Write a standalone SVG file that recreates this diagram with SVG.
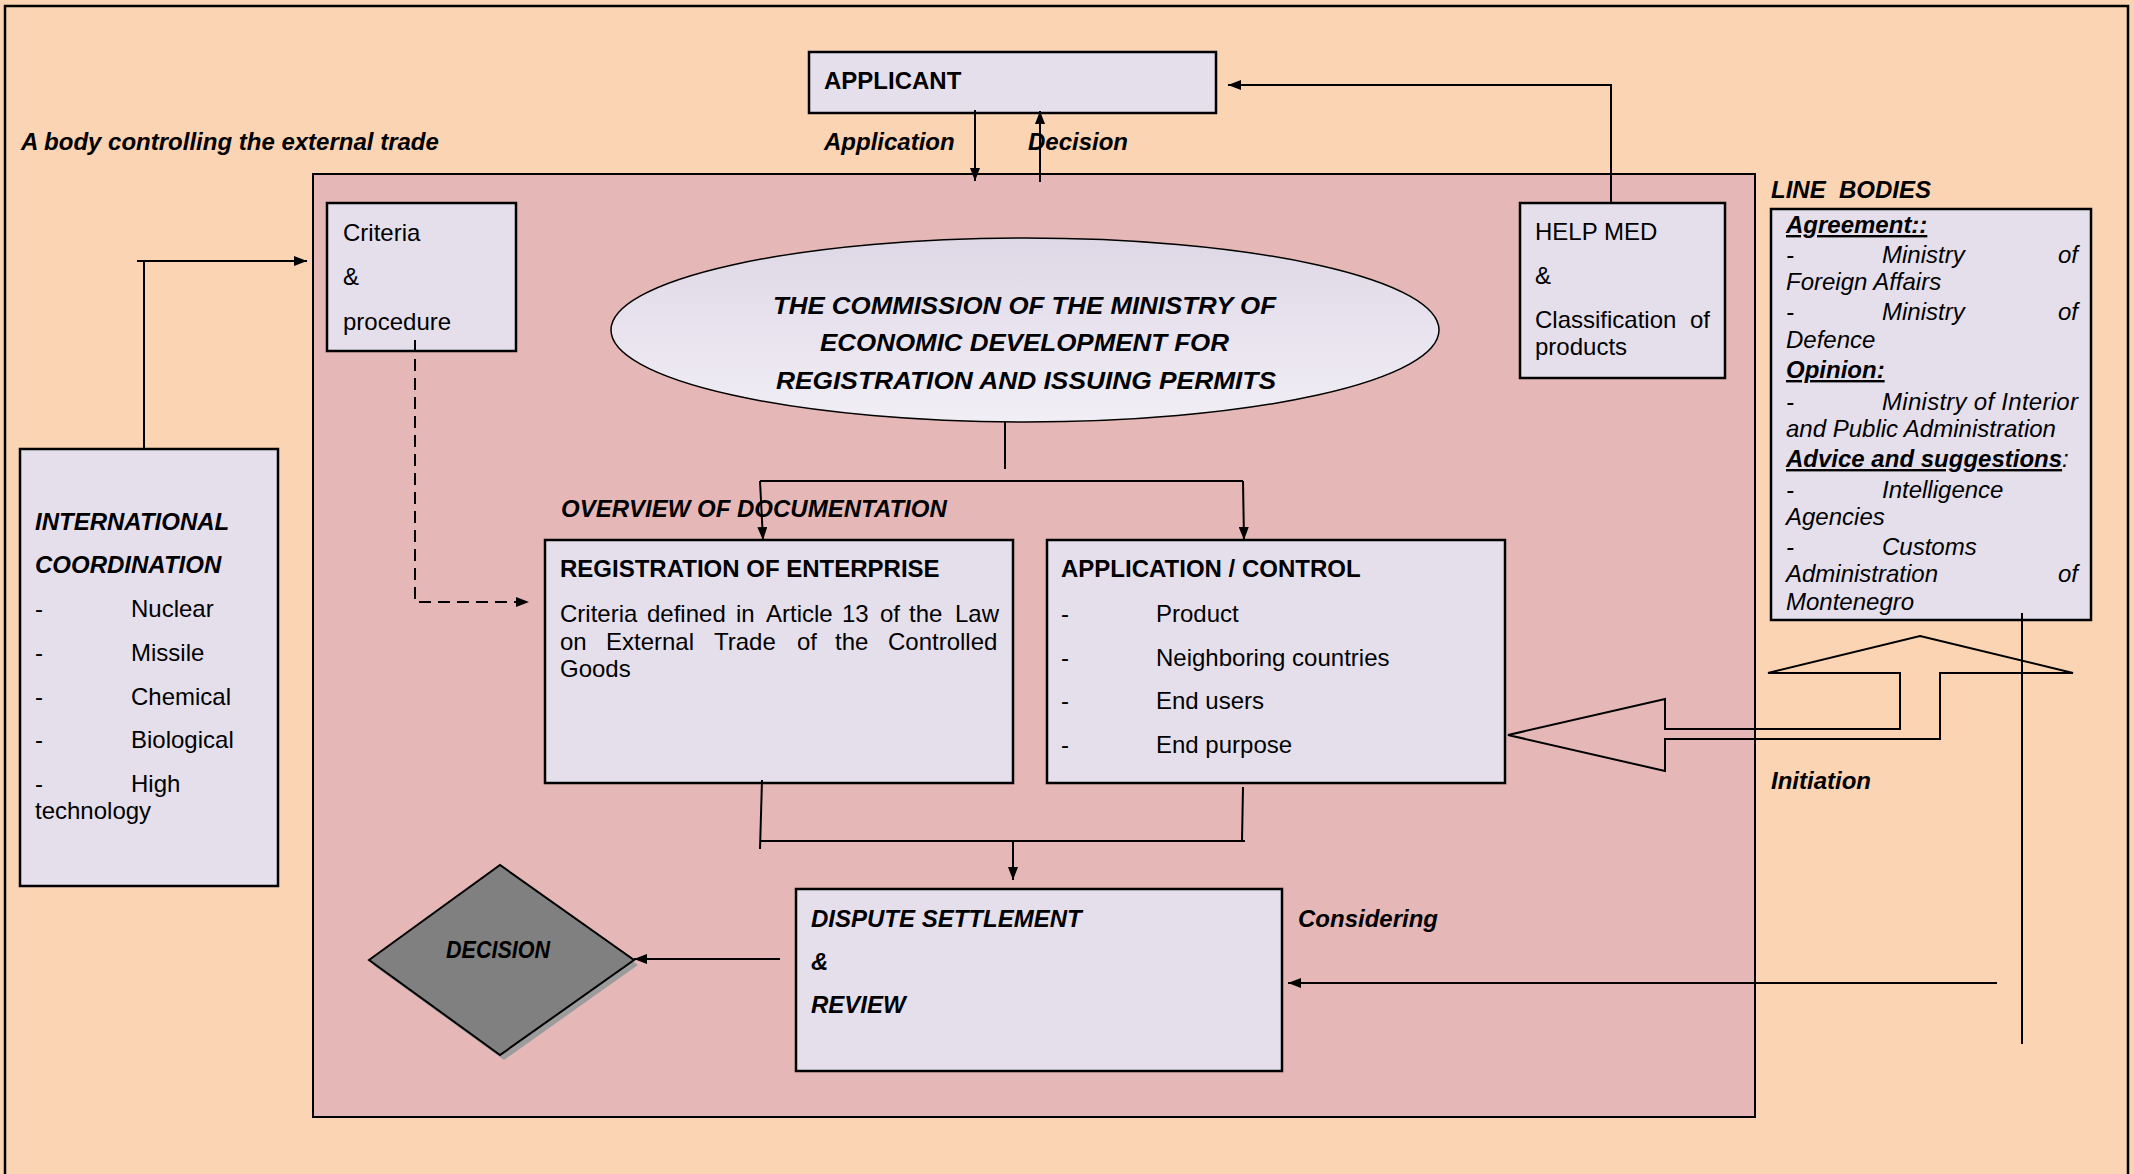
<svg xmlns="http://www.w3.org/2000/svg" width="2134" height="1174" viewBox="0 0 2134 1174">
<defs>
<style>
text{font-family:"Liberation Sans",Arial,sans-serif;font-size:24px;fill:#000}
.b{font-weight:bold}
.bi{font-weight:bold;font-style:italic}
.i{font-style:italic}
.u{text-decoration:underline}
.box{fill:#E5DFEC;stroke:#000;stroke-width:2.5}
.ln{fill:none;stroke:#000;stroke-width:2}
.arr{fill:none;stroke:#000;stroke-width:2;marker-end:url(#ah)}
</style>
<marker id="ah" viewBox="0 0 13 10" refX="13" refY="5" markerWidth="13" markerHeight="10" markerUnits="userSpaceOnUse" orient="auto">
<path d="M0,0 L13,5 L0,10 z" fill="#000"/>
</marker>
<linearGradient id="eg" x1="0" y1="0" x2="0" y2="1">
<stop offset="0" stop-color="#DED8E6"/>
<stop offset="0.5" stop-color="#E8E3EE"/>
<stop offset="1" stop-color="#F1EEF5"/>
</linearGradient>
</defs>

<rect x="0" y="0" width="2134" height="1174" fill="#FBD4B4"/>
<path d="M5,1174 V6 H2128 V1174" fill="none" stroke="#000" stroke-width="2.5"/>
<text x="21" y="150" class="bi">A body controlling the external trade</text>

<g id="main-area">
<rect x="313" y="174" width="1442" height="943" fill="#E5B8B7" stroke="#000" stroke-width="2"/>
</g>

<g id="applicant">
<rect x="809" y="52" width="407" height="61" class="box"/>
<text x="824" y="89" class="b">APPLICANT</text>
</g>
<text x="824" y="150" class="bi">Application</text>
<text x="1028" y="150" class="bi">Decision</text>

<g id="criteria">
<rect x="327" y="203" width="189" height="148" class="box"/>
<text x="343" y="241">Criteria</text>
<text x="343" y="285">&amp;</text>
<text x="343" y="330">procedure</text>
</g>

<g id="helpmed">
<rect x="1520" y="203" width="205" height="175" class="box"/>
<text x="1535" y="240">HELP MED</text>
<text x="1535" y="284">&amp;</text>
<text x="1535" y="328">Classification</text>
<text x="1710" y="328" text-anchor="end">of</text>
<text x="1535" y="355">products</text>
</g>

<g id="commission">
<ellipse cx="1025" cy="330" rx="414" ry="92" fill="url(#eg)" stroke="#000" stroke-width="1.5"/>
<text x="1024.5" y="314" class="bi" font-size="27" text-anchor="middle" textLength="503" lengthAdjust="spacingAndGlyphs">THE COMMISSION OF THE MINISTRY OF</text>
<text x="1024.5" y="351" class="bi" font-size="27" text-anchor="middle" textLength="409" lengthAdjust="spacingAndGlyphs">ECONOMIC DEVELOPMENT FOR</text>
<text x="1026" y="389" class="bi" font-size="27" text-anchor="middle" textLength="500" lengthAdjust="spacingAndGlyphs">REGISTRATION AND ISSUING PERMITS</text>
</g>

<g id="intl">
<rect x="20" y="449" width="258" height="437" class="box"/>
<text x="35" y="530" class="bi">INTERNATIONAL</text>
<text x="35" y="573" class="bi">COORDINATION</text>
<text x="35" y="617">-</text><text x="131" y="617">Nuclear</text>
<text x="35" y="661">-</text><text x="131" y="661">Missile</text>
<text x="35" y="705">-</text><text x="131" y="705">Chemical</text>
<text x="35" y="748">-</text><text x="131" y="748">Biological</text>
<text x="35" y="792">-</text><text x="131" y="792">High</text>
<text x="35" y="819">technology</text>
</g>

<g id="linebodies">
<text x="1771" y="198" class="bi">LINE&#160; BODIES</text>
<rect x="1771" y="209" width="320" height="411" class="box"/>
<text x="1786" y="233" class="bi u">Agreement::</text>
<text x="1786" y="263" class="i">-</text><text x="1882" y="263" class="i">Ministry</text><text x="2078" y="263" class="i" text-anchor="end">of</text>
<text x="1786" y="290" class="i">Foreign Affairs</text>
<text x="1786" y="320" class="i">-</text><text x="1882" y="320" class="i">Ministry</text><text x="2078" y="320" class="i" text-anchor="end">of</text>
<text x="1786" y="348" class="i">Defence</text>
<text x="1786" y="378" class="bi u">Opinion:</text>
<text x="1786" y="410" class="i">-</text><text x="1882" y="410" class="i" textLength="196">Ministry of Interior</text>
<text x="1786" y="437" class="i">and Public Administration</text>
<text x="1786" y="467" class="i"><tspan class="bi u">Advice and suggestions</tspan>:</text>
<text x="1786" y="498" class="i">-</text><text x="1882" y="498" class="i">Intelligence</text>
<text x="1786" y="525" class="i">Agencies</text>
<text x="1786" y="555" class="i">-</text><text x="1882" y="555" class="i">Customs</text>
<text x="1786" y="582" class="i">Administration</text><text x="2078" y="582" class="i" text-anchor="end">of</text>
<text x="1786" y="610" class="i">Montenegro</text>
</g>

<text x="561" y="517" class="bi">OVERVIEW OF DOCUMENTATION</text>

<g id="registration">
<rect x="545" y="540" width="468" height="243" class="box"/>
<text x="560" y="577" class="b">REGISTRATION OF ENTERPRISE</text>
<text y="622"><tspan x="560">Criteria</tspan><tspan x="647">defined</tspan><tspan x="736">in</tspan><tspan x="766">Article</tspan><tspan x="842">13</tspan><tspan x="880">of</tspan><tspan x="909">the</tspan><tspan x="955">Law</tspan></text>
<text y="650"><tspan x="560">on</tspan><tspan x="606">External</tspan><tspan x="714">Trade</tspan><tspan x="797">of</tspan><tspan x="835">the</tspan><tspan x="888">Controlled</tspan></text>
<text x="560" y="677">Goods</text>
</g>

<g id="appcontrol">
<rect x="1047" y="540" width="458" height="243" class="box"/>
<text x="1061" y="577" class="b">APPLICATION / CONTROL</text>
<text x="1061" y="622">-</text><text x="1156" y="622">Product</text>
<text x="1061" y="666">-</text><text x="1156" y="666">Neighboring countries</text>
<text x="1061" y="709">-</text><text x="1156" y="709">End users</text>
<text x="1061" y="753">-</text><text x="1156" y="753">End purpose</text>
</g>

<g id="dispute">
<rect x="796" y="889" width="486" height="182" class="box"/>
<text x="811" y="927" class="bi">DISPUTE SETTLEMENT</text>
<text x="811" y="970" class="bi">&amp;</text>
<text x="811" y="1013" class="bi">REVIEW</text>
</g>
<text x="1298" y="927" class="bi">Considering</text>

<g id="decision">
<polygon points="373,965 504,870 638,965 504,1060" fill="#9c9c9c"/>
<polygon points="369,960 500,865 634,960 500,1055" fill="#808080" stroke="#000" stroke-width="2"/>
<text x="446" y="958" class="bi" font-size="24" textLength="104" lengthAdjust="spacingAndGlyphs">DECISION</text>
</g>

<text x="1771" y="789" class="bi">Initiation</text>

<g id="connectors">
<path d="M975,110 V181" class="arr"/>
<path d="M1040,182 V111" class="arr"/>
<path d="M1611,203 V85 H1228" class="arr"/>
<path d="M144,449 V261" class="ln"/>
<path d="M137,261 H307" class="arr"/>
<path d="M415,340 V602 H529" class="arr" stroke-dasharray="12,7"/>
<path d="M1005,422 V469" class="ln"/>
<path d="M760,481 H1243" class="ln"/>
<path d="M760,481 L763,540" class="arr"/>
<path d="M1243,481 L1244,540" class="arr"/>
<path d="M762,780 L760,849" class="ln"/>
<path d="M1243,787 L1242,841" class="ln"/>
<path d="M760,841 H1245" class="ln"/>
<path d="M1013,841 V880" class="arr"/>
<path d="M780,959 H634" class="arr"/>
<path d="M1997,983 H1288" class="arr"/>
<path d="M2022,613 V1044" class="ln"/>
<path d="M1920,636 L2073,673 H1940 V739 H1665 V771 L1508,735 L1665,699 V729 H1900 V673 H1768 Z" fill="none" stroke="#000" stroke-width="2"/>
</g>
</svg>
